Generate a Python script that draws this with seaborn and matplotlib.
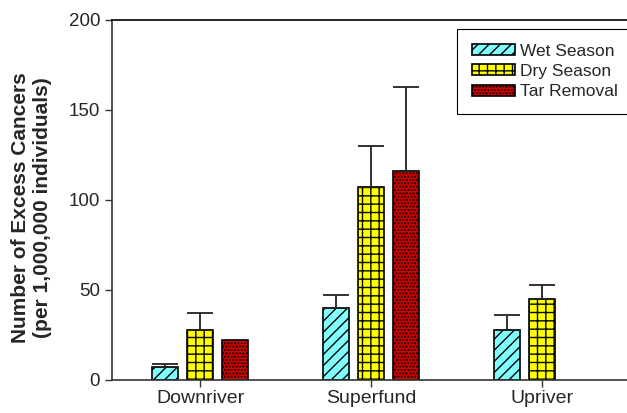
import numpy as np
import pandas as pd
import seaborn as sns
import matplotlib.pyplot as plt

# -----------------------------------
# Data
# -----------------------------------

sites = ["Downriver", "Superfund", "Upriver"]
seasons = ["Wet Season", "Dry Season", "Tar Removal"]

wet_values = [7, 40, 28]
wet_errors = [2, 7, 8]

dry_values = [28, 107, 45]
dry_errors = [9, 23, 8]

# no tar removal sampling upriver
tar_sites = ["Downriver", "Superfund"]
tar_values = [22, 116]
tar_errors = [0, 47]

rows = []
for s, v, e in zip(sites, wet_values, wet_errors):
    rows.append((s, "Wet Season", v, e))
for s, v, e in zip(sites, dry_values, dry_errors):
    rows.append((s, "Dry Season", v, e))
for s, v, e in zip(tar_sites, tar_values, tar_errors):
    rows.append((s, "Tar Removal", v, e))

df = pd.DataFrame(rows, columns=["site", "season", "value", "err"])

# -----------------------------------
# Style
# -----------------------------------

sns.set_style("ticks")
plt.rcParams["font.family"] = ["Liberation Sans", "DejaVu Sans"]
plt.rcParams["hatch.linewidth"] = 1.0

colors = {"Wet Season": "#80FFFF", "Dry Season": "#FFFF00", "Tar Removal": "#D40000"}
hatches = {"Wet Season": "///", "Dry Season": "++", "Tar Removal": "....."}

# -----------------------------------
# Figure
# -----------------------------------

fig = plt.figure(figsize=(6.27, 4.13), dpi=100)
ax = fig.add_axes([112 / 627, 33 / 413, 533 / 627, 360 / 413])

sns.barplot(
    data=df,
    x="site",
    y="value",
    hue="season",
    order=sites,
    hue_order=seasons,
    palette=colors,
    saturation=1,
    width=0.615,
    gap=0.26,
    errorbar=None,
    edgecolor="black",
    linewidth=1.2,
    ax=ax
)

# hatches + upper error bars
for season, container in zip(seasons, ax.containers):
    sub = df[df["season"] == season].set_index("site")
    sub = sub.loc[[s for s in sites if s in sub.index]]
    for bar, (_, r) in zip(container, sub.iterrows()):
        bar.set_hatch(hatches[season])
        if r["err"] > 0:
            xc = bar.get_x() + bar.get_width() / 2
            ax.errorbar(
                xc, r["value"],
                yerr=[[0], [r["err"]]],
                fmt="none",
                ecolor="#222222",
                elinewidth=1.3,
                capsize=9.5,
                capthick=1.3,
                zorder=1
            )

ax.set_xlim(-0.515, 2.6)
ax.set_ylim(0, 200)
ax.set_yticks([0, 50, 100, 150, 200])

ax.set_xlabel("")
ax.set_ylabel(
    "Number of Excess Cancers\n(per 1,000,000 individuals)",
    fontsize=15,
    fontweight="bold"
)
ax.yaxis.set_label_coords(-0.113, 0.479)

ax.tick_params(axis="y", labelsize=13.5, length=5, width=1, color="#333333")
ax.tick_params(axis="x", labelsize=14, length=5, width=1, color="#333333", pad=2.5)

for side in ["left", "bottom"]:
    ax.spines[side].set_color("#333333")
    ax.spines[side].set_linewidth(1.2)
ax.spines["top"].set_visible(True)
ax.spines["top"].set_color("black")
ax.spines["top"].set_linewidth(1.2)
ax.spines["right"].set_visible(True)

handles, labels = ax.get_legend_handles_labels()
for h, season in zip(handles, seasons):
    h.set_hatch(hatches[season])

ax.legend(
    handles, labels,
    loc="upper left",
    bbox_to_anchor=(457 / 627, 1 - 29 / 413),
    bbox_transform=fig.transFigure,
    borderaxespad=0,
    fancybox=False,
    edgecolor="black",
    framealpha=1,
    fontsize=12.5,
    handlelength=2.5,
    handleheight=0.6,
    handletextpad=0.3,
    labelspacing=0.3,
    borderpad=0.85,
    title=None
).get_frame().set_linewidth(0.8)

plt.savefig("out.png", dpi=100)
